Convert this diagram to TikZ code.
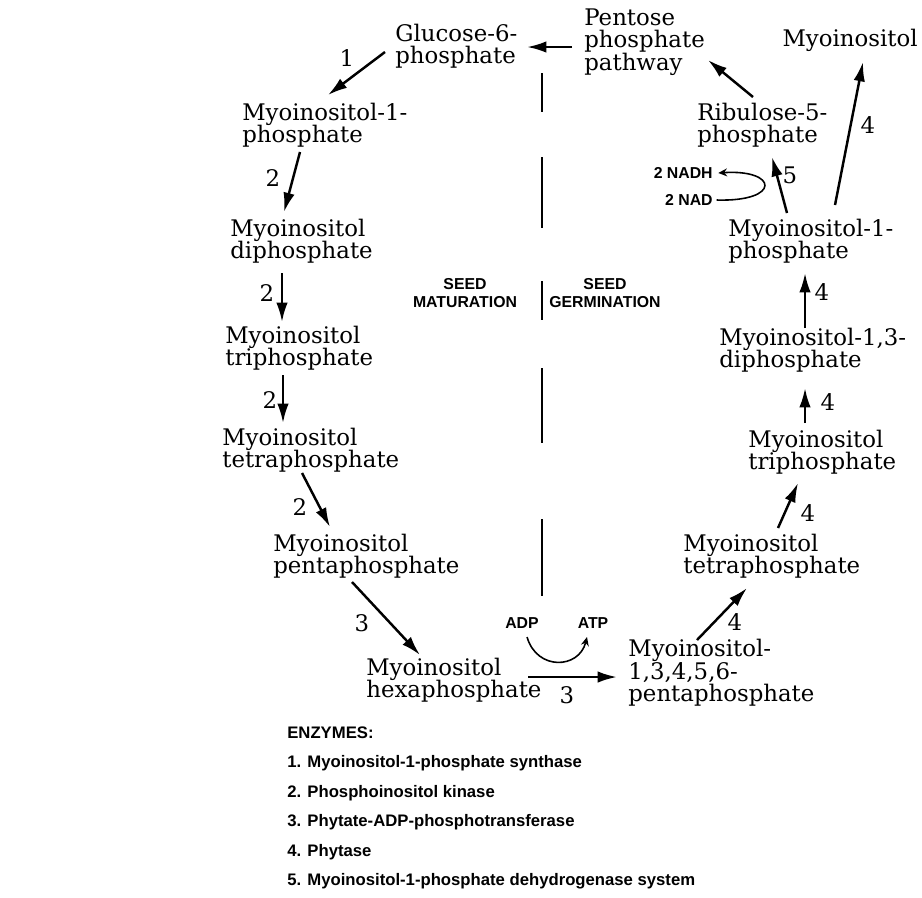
\documentclass[tikz,border=0pt]{standalone}
\usepackage{fontspec}
\newfontfamily\chemfont{DejaVu Serif}
\newfontfamily\tagfont{Liberation Sans}
\usetikzlibrary{arrows.meta}

\begin{document}
\begin{tikzpicture}[x=0.02cm, y=-0.02cm,
    cmpd/.style={font=\chemfont\fontsize{13}{12.8}\selectfont, align=left, anchor=west, inner sep=0pt},
    num/.style={font=\chemfont\fontsize{13}{13}\selectfont, inner sep=0pt},
    tag/.style={font=\tagfont\bfseries\fontsize{9}{10}\selectfont, align=center, inner sep=0pt},
    rx/.style={line width=1.4pt, -{Latex[length=11pt, width=6.5pt]}},
    thin rx/.style={line width=0.9pt, -{Stealth[length=5pt, width=4.5pt]}}]
    \useasboundingbox (0,0) rectangle (922,897);

    % seed maturation (left column)
    \node[cmpd] (g6p)  at (395,46)  {Glucose-6-\\phosphate};
    \node[cmpd] (m1pL) at (242,125) {Myoinositol-1-\\phosphate};
    \node[cmpd] (m2L)  at (230,241) {Myoinositol\\diphosphate};
    \node[cmpd] (m3L)  at (225,348) {Myoinositol\\triphosphate};
    \node[cmpd] (m4L)  at (222,450) {Myoinositol\\tetraphosphate};
    \node[cmpd] (m5L)  at (273,556) {Myoinositol\\pentaphosphate};
    \node[cmpd] (m6)   at (366,680) {Myoinositol\\hexaphosphate};

    % seed germination (right column)
    \node[cmpd] (ppp)  at (584,42)  {Pentose\\phosphate\\pathway};
    \node[cmpd, anchor=east] (myo) at (918,40) {Myoinositol};
    \node[cmpd] (ru5p) at (697,125) {Ribulose-5-\\phosphate};
    \node[cmpd] (m1pR) at (728,241) {Myoinositol-1-\\phosphate};
    \node[cmpd] (m13)  at (719,350) {Myoinositol-1,3-\\diphosphate};
    \node[cmpd] (m3R)  at (748,452) {Myoinositol\\triphosphate};
    \node[cmpd] (m4R)  at (683,556) {Myoinositol\\tetraphosphate};
    \node[cmpd] (m5R)  at (628,673) {Myoinositol-\\1,3,4,5,6-\\pentaphosphate};

    % cofactors and stage labels
    \node[tag, anchor=east] (nadh) at (713,173) {2 NADH};
    \node[tag, anchor=east] (nad)  at (713,200) {2 NAD};
    \node[tag] (adp) at (522,623) {ADP};
    \node[tag] (atp) at (593,623) {ATP};
    \node[tag] (mat) at (465,293) {SEED\\MATURATION};
    \node[tag] (ger) at (605,293) {SEED\\GERMINATION};

    % divider
    \foreach \a/\b in {73/112, 157/228, 281/320, 368/443, 519/596}
        \draw[line width=1.4pt] (542,\a) -- (542,\b);

    % reactions
    \draw[rx] ([shift={(-10,6)}]g6p.west)    -- ([shift={(86,-30)}]m1pL.west);
    \draw[rx] ([shift={(58,27)}]m1pL.west)   -- ([shift={(54,-29)}]m2L.west);
    \draw[rx] ([shift={(52,32)}]m2L.west)    -- ([shift={(57,-26)}]m3L.west);
    \draw[rx] ([shift={(58,27)}]m3L.west)    -- ([shift={(61,-27)}]m4L.west);
    \draw[rx] ([shift={(80,23)}]m4L.west)    -- ([shift={(57,-29)}]m5L.west);
    \draw[rx] ([shift={(79,26)}]m5L.west)    -- ([shift={(54,-25)}]m6.west);
    \draw[rx] ([shift={(162,-3)}]m6.west)    -- ([shift={(-11,4)}]m5R.west);
    \draw[rx] ([shift={(69,-33)}]m5R.west)   -- ([shift={(64,32)}]m4R.west);
    \draw[rx] ([shift={(95,-28)}]m4R.west)   -- ([shift={(50,31)}]m3R.west);
    \draw[rx] ([shift={(57,-29)}]m3R.west)   -- ([shift={(86,38)}]m13.west);
    \draw[rx] ([shift={(86,-22)}]m13.west)   -- ([shift={(77,32)}]m1pR.west);
    \draw[rx] ([shift={(59,-28)}]m1pR.west)  -- ([shift={(75,32)}]ru5p.west);
    \draw[rx] ([shift={(107,-36)}]m1pR.west) -- ([shift={(-55,22)}]myo.east);
    \draw[rx] ([shift={(56,-28)}]ru5p.west)  -- ([shift={(124,18)}]ppp.west);
    \draw[rx] ([shift={(-12,5)}]ppp.west)    -- ([shift={(132,1)}]g6p.west);

    % coupled cofactor curves
    \draw[thin rx] ([xshift=2]nad.east) .. controls +(65,2) and +(60,-4) .. ([xshift=3]nadh.east);
    \draw[thin rx] ([shift={(5,14)}]adp.center) .. controls +(10,34) and +(-8,32) .. ([shift={(-6,14)}]atp.center);

    % enzyme numbers
    \node[num] (k1)  at (347,58)  {1};
    \node[num] (k2a) at (273,178) {2};
    \node[num] (k2b) at (267,293) {2};
    \node[num] (k2c) at (270,400) {2};
    \node[num] (k2d) at (300,507) {2};
    \node[num] (k3a) at (362,623) {3};
    \node[num] (k3b) at (567,695) {3};
    \node[num] (k4a) at (735,622) {4};
    \node[num] (k4b) at (808,513) {4};
    \node[num] (k4c) at (828,402) {4};
    \node[num] (k4d) at (822,292) {4};
    \node[num] (k4e) at (868,125) {4};
    \node[num] (k5)  at (790,175) {5};

    % key
    \node[font=\tagfont\bfseries\fontsize{9.5}{16.8}\selectfont, align=left, anchor=west, inner sep=0pt] (enz) at (287,808)
        {ENZYMES:\\
         1. Myoinositol-1-phosphate synthase\\
         2. Phosphoinositol kinase\\
         3. Phytate-ADP-phosphotransferase\\
         4. Phytase\\
         5. Myoinositol-1-phosphate dehydrogenase system};
\end{tikzpicture}
\end{document}
